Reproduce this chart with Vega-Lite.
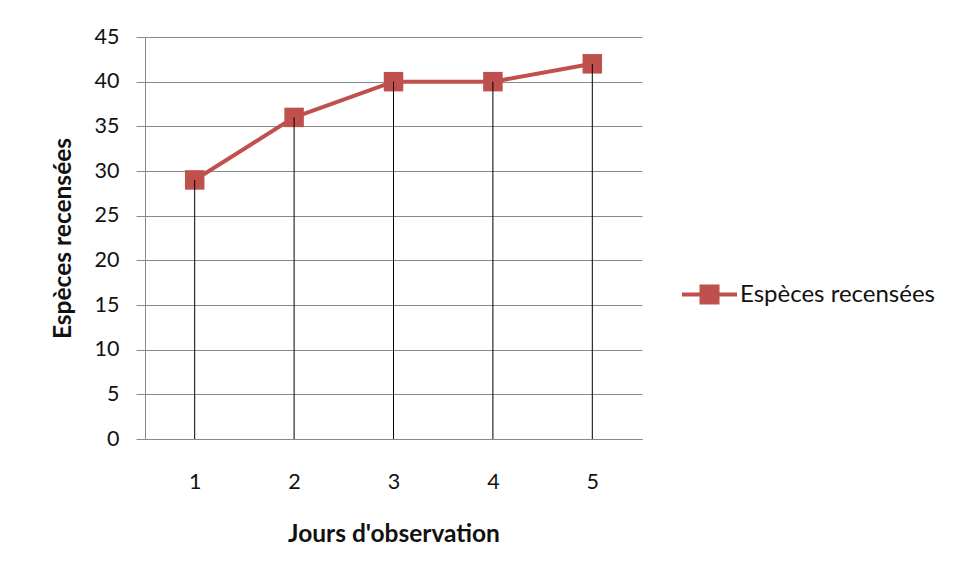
{
  "$schema": "https://vega.github.io/schema/vega-lite/v6.json",
  "width": 497,
  "height": 402,
  "autosize": {"type": "none"},
  "padding": {"left": 145, "top": 37, "right": 316, "bottom": 140},
  "background": "#ffffff",
  "config": {
    "view": {"stroke": null},
    "font": "Lato",
    "axis": {
      "labelFont": "Lato",
      "titleFont": "Lato",
      "labelColor": "#111111",
      "titleColor": "#111111",
      "labelFontSize": 21.5,
      "titleFontSize": 24.5,
      "titleFontWeight": "bold",
      "domainColor": "#888888",
      "gridColor": "#888888",
      "tickColor": "#888888"
    }
  },
  "data": {
    "values": [
      {"jour": 1, "especes": 29, "serie": "Espèces recensées"},
      {"jour": 2, "especes": 36, "serie": "Espèces recensées"},
      {"jour": 3, "especes": 40, "serie": "Espèces recensées"},
      {"jour": 4, "especes": 40, "serie": "Espèces recensées"},
      {"jour": 5, "especes": 42, "serie": "Espèces recensées"}
    ]
  },
  "encoding": {
    "x": {
      "field": "jour",
      "type": "ordinal",
      "title": "Jours d'observation",
      "scale": {"type": "point", "padding": 0.5},
      "axis": {"labelAngle": 0, "ticks": false, "labelPadding": 32, "titlePadding": 30, "grid": false}
    },
    "y": {
      "field": "especes",
      "type": "quantitative",
      "title": "Espèces recensées",
      "scale": {"domain": [0, 45], "nice": false},
      "axis": {"values": [0, 5, 10, 15, 20, 25, 30, 35, 40, 45], "tickSize": 9, "labelPadding": 17, "titlePadding": 19, "grid": true}
    }
  },
  "layer": [
    {
      "mark": {"type": "line", "color": "#C0504D", "strokeWidth": 4}
    },
    {
      "mark": {"type": "point", "shape": "square", "filled": true, "size": 380, "opacity": 1},
      "encoding": {
        "color": {
          "field": "serie",
          "type": "nominal",
          "scale": {"range": ["#C0504D"]},
          "legend": {
            "title": null,
            "orient": "none",
            "legendX": 537,
            "legendY": 230,
            "symbolType": "M-1,-0.073H1V0.073H-1Z M-0.364,-0.364H0.364V0.364H-0.364Z",
            "symbolSize": 3025,
            "symbolStrokeWidth": 0,
            "symbolOpacity": 1,
            "labelFont": "Lato",
            "labelFontSize": 24,
            "labelColor": "#111111",
            "labelOffset": 3,
            "labelLimit": 300
          }
        }
      }
    },
    {
      "mark": {"type": "rule", "color": "#000000", "strokeWidth": 1},
      "encoding": {
        "y": {"datum": 0, "type": "quantitative"},
        "y2": {"field": "especes"}
      }
    }
  ]
}
